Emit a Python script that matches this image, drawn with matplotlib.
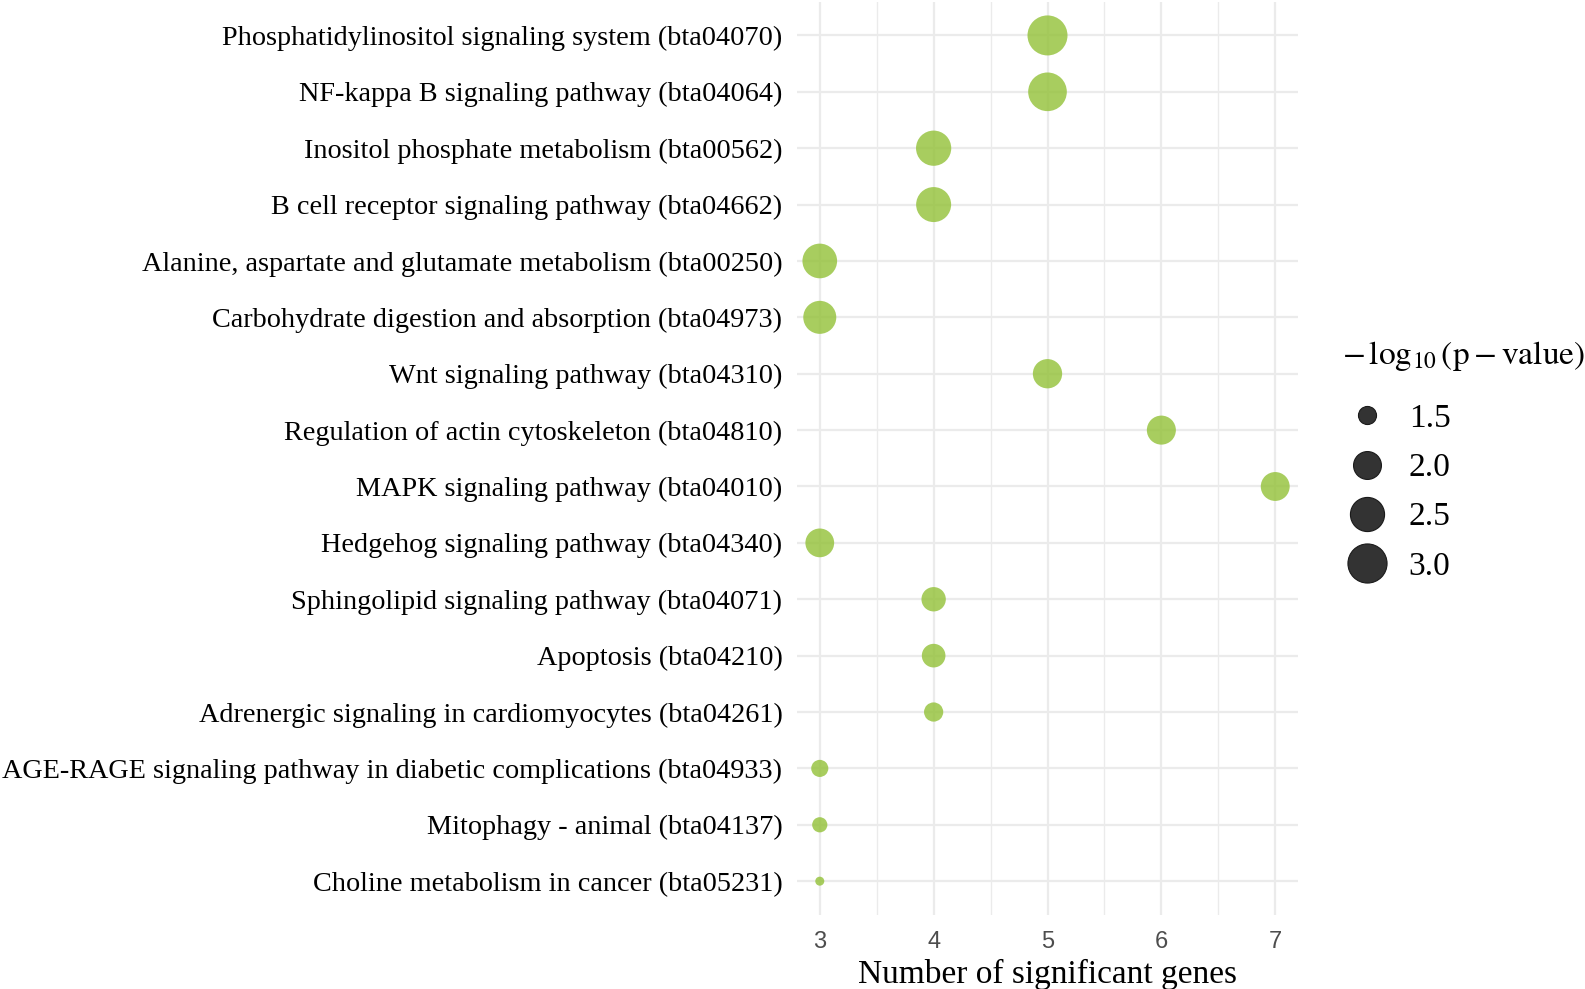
import numpy as np
import matplotlib
matplotlib.use("Agg")
import matplotlib.pyplot as plt
from matplotlib.lines import Line2D
from matplotlib.ticker import MultipleLocator

# KEGG pathways, top to bottom
pathways = [
    "Phosphatidylinositol signaling system (bta04070)",
    "NF-kappa B signaling pathway (bta04064)",
    "Inositol phosphate metabolism (bta00562)",
    "B cell receptor signaling pathway (bta04662)",
    "Alanine, aspartate and glutamate metabolism (bta00250)",
    "Carbohydrate digestion and absorption (bta04973)",
    "Wnt signaling pathway (bta04310)",
    "Regulation of actin cytoskeleton (bta04810)",
    "MAPK signaling pathway (bta04010)",
    "Hedgehog signaling pathway (bta04340)",
    "Sphingolipid signaling pathway (bta04071)",
    "Apoptosis (bta04210)",
    "Adrenergic signaling in cardiomyocytes (bta04261)",
    "AGE-RAGE signaling pathway in diabetic complications (bta04933)",
    "Mitophagy - animal (bta04137)",
    "Choline metabolism in cancer (bta05231)",
]
n_genes = [5, 5, 4, 4, 3, 3, 5, 6, 7, 3, 4, 4, 4, 3, 3, 3]
neg_log10_p = [3.10, 2.95, 2.60, 2.58, 2.55, 2.40, 2.10, 2.08, 2.07, 2.06,
               1.78, 1.74, 1.54, 1.47, 1.42, 1.35]
size_breaks = [1.5, 2.0, 2.5, 3.0]
x_ticks = [3, 4, 5, 6, 7]

DPI = 100
W, H = 1585, 989

# area-style size scale: diameter grows with sqrt of the rescaled value
D_MIN_PX, D_MAX_PX = 9.0, 40.0
vmin, vmax = min(neg_log10_p), max(neg_log10_p)


def diameter_pt(v):
    t = (np.asarray(v, float) - vmin) / (vmax - vmin)
    t = np.clip(t, 0, 1)
    d_px = D_MIN_PX + np.sqrt(t) * (D_MAX_PX - D_MIN_PX)
    return d_px * 72.0 / DPI


plt.rcParams["font.family"] = ["Liberation Serif", "DejaVu Serif"]
plt.rcParams["mathtext.fontset"] = "stix"

fig = plt.figure(figsize=(W / DPI, H / DPI), dpi=DPI)
left, right = 797 / W, 1298 / W
bottom, top = 1 - 915 / H, 1 - 1.6 / H
ax = fig.add_axes([left, bottom, right - left, top - bottom])

ypos = np.arange(len(pathways))[::-1]
ax.scatter(n_genes, ypos, s=diameter_pt(neg_log10_p) ** 2,
           color="#92C137", alpha=0.8, edgecolors="none", zorder=3)

ax.set_xlim(2.8, 7.2)
ax.set_ylim(-0.6, len(pathways) - 1 + 0.6)
ax.set_xticks(x_ticks)
ax.xaxis.set_minor_locator(MultipleLocator(0.5))
ax.set_yticks(ypos)
ax.set_yticklabels(pathways)

grid_col = "#EBEBEB"
ax.grid(True, which="major", color=grid_col, linewidth=1.6, zorder=0)
ax.grid(True, which="minor", axis="x", color=grid_col, linewidth=1.0, zorder=0)
ax.set_axisbelow(True)
for sp in ax.spines.values():
    sp.set_visible(False)

ax.tick_params(axis="both", which="both", length=0)
ax.tick_params(axis="y", pad=10.5, labelsize=20.3, labelcolor="black")
ax.tick_params(axis="x", pad=11.5, labelsize=17, labelcolor="#4D4D4D")
for lab in ax.get_xticklabels():
    lab.set_family(["Liberation Sans", "DejaVu Sans"])

fig.text((left + right) / 2, 1 - 983 / H, "Number of significant genes",
         ha="center", va="baseline", fontsize=24)

handles = [Line2D([], [], linestyle="", marker="o",
                  markersize=float(diameter_pt(b)),
                  markerfacecolor="#333333", markeredgecolor="#1A1A1A",
                  markeredgewidth=0.8)
           for b in size_breaks]
leg = ax.legend(handles, [f"{b:.1f}" for b in size_breaks],
                title=r"$-\,\log_{10}(\mathrm{p}-\mathrm{value})$",
                loc="upper left", bbox_to_anchor=(1342 / W, 1 - 339 / H),
                bbox_transform=fig.transFigure, frameon=False,
                fontsize=24, title_fontsize=24, alignment="left",
                labelspacing=0.56, handlelength=1.5, handletextpad=0.5,
                borderaxespad=0, borderpad=0)
# extra room between the legend title and its keys
leg._legend_box.sep = 22

fig.savefig("out.png", dpi=DPI)
